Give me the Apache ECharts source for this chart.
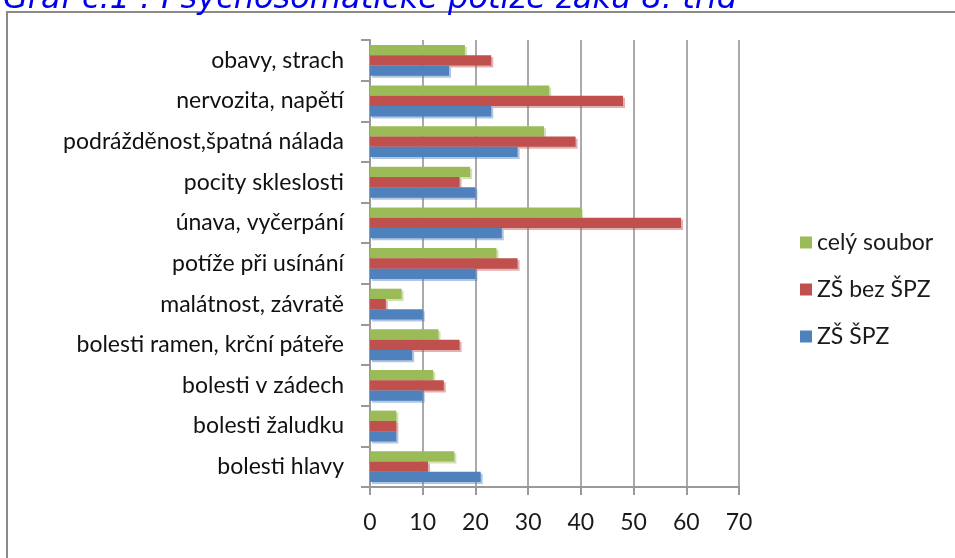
<!DOCTYPE html>
<html>
<head>
<meta charset="utf-8">
<script src="https://cdn.jsdelivr.net/npm/echarts@6/dist/echarts.min.js"></script>
<style>
html, body { margin: 0; padding: 0; background: #fff; }
#main { width: 955px; height: 558px; }
</style>
</head>
<body>
<div id="main"></div>
<script>
var categories = ['bolesti hlavy', 'bolesti žaludku', 'bolesti v zádech', 'bolesti ramen, krční páteře',
  'malátnost, závratě', 'potíže při usínání', 'únava, vyčerpání', 'pocity skleslosti',
  'podrážděnost,špatná nálada', 'nervozita, napětí', 'obavy, strach'];
var zsSpz = [21, 5, 10, 8, 10, 20, 25, 20, 28, 23, 15];
var zsBezSpz = [11, 5, 14, 17, 3, 28, 59, 17, 39, 48, 23];
var celySoubor = [16, 5, 12, 13, 6, 24, 40, 19, 33, 34, 18];
var xTicks = [0, 10, 20, 30, 40, 50, 60, 70];

var myChart = echarts.init(document.getElementById('main'));
var labelFont = 'Lato, "Open Sans", sans-serif';

myChart.setOption({
  animation: false,
  title: {
    text: 'Graf č.1 : Psychosomatické potíže žáků 8. tříd',
    left: -2,
    top: -21,
    textStyle: { color: '#0000ee', fontStyle: 'italic', fontWeight: 'normal', fontSize: 32, fontFamily: '"DejaVu Sans", sans-serif' }
  },
  graphic: [{
    type: 'rect',
    shape: { x: 7, y: 12, width: 1000, height: 600 },
    style: { fill: 'none', stroke: '#8a8a8a', lineWidth: 2 },
    silent: true
  }],
  legend: {
    orient: 'vertical',
    left: 795,
    top: 226,
    itemWidth: 12,
    itemHeight: 12,
    itemGap: 24,
    icon: 'rect',
    data: ['celý soubor', 'ZŠ bez ŠPZ', 'ZŠ ŠPZ'],
    textStyle: { fontSize: 23, color: '#1a1a1a', fontFamily: labelFont }
  },
  grid: { left: 370, top: 40, right: 216, bottom: 71 },
  xAxis: {
    type: 'value',
    min: 0,
    max: 70,
    interval: 10,
    axisLine: { show: true, lineStyle: { color: '#999', width: 2 } },
    axisTick: { show: true, length: 8, lineStyle: { color: '#999', width: 2 } },
    splitLine: { show: true, lineStyle: { color: '#aaa', width: 2 } },
    axisLabel: {
      margin: 24, fontSize: 23, color: '#1a1a1a', fontFamily: labelFont,
      formatter: function (v) { return xTicks.indexOf(v) >= 0 ? String(v) : ''; }
    }
  },
  yAxis: {
    type: 'category',
    data: categories,
    axisLine: { show: true, lineStyle: { color: '#999', width: 2 } },
    axisTick: { show: true, length: 9, lineStyle: { color: '#999', width: 2 } },
    axisLabel: { margin: 26, fontSize: 23, color: '#111', fontFamily: labelFont }
  },
  series: [
    { name: 'celý soubor', type: 'bar', data: celySoubor, barGap: '0%', barCategoryGap: '24%',
      itemStyle: { color: '#9bbb59', shadowColor: 'rgba(155,187,89,0.45)', shadowOffsetX: 2, shadowOffsetY: 2 } },
    { name: 'ZŠ bez ŠPZ', type: 'bar', data: zsBezSpz, barGap: '0%', barCategoryGap: '24%',
      itemStyle: { color: '#c0504d', shadowColor: 'rgba(192,80,77,0.45)', shadowOffsetX: 2, shadowOffsetY: 2 } },
    { name: 'ZŠ ŠPZ', type: 'bar', data: zsSpz, barGap: '0%', barCategoryGap: '24%',
      itemStyle: { color: '#4f81bd', shadowColor: 'rgba(79,129,189,0.45)', shadowOffsetX: 2, shadowOffsetY: 2 } }
  ]
});
</script>
</body>
</html>
